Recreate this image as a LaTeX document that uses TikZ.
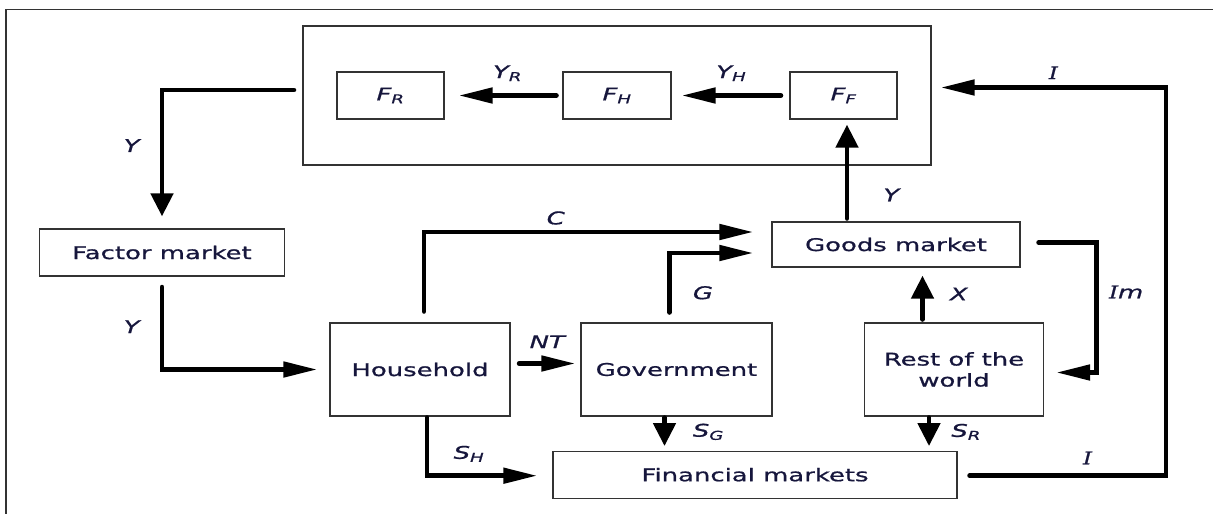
\documentclass[tikz,border=0pt]{standalone}
\usepackage{fontspec}
\setmainfont{DejaVu Sans}[FakeStretch=1.48,FakeBold=0.9,ItalicFont={DejaVu Sans Oblique}]
\newfontfamily\serifI{DejaVu Serif}[FakeStretch=1.3,FakeBold=0.9]
\usepackage{xcolor}
\usetikzlibrary{
	positioning,   %relative placement of labels
	calc,          %offsets from anchors
	arrows.meta    %Triangle tips
}
\definecolor{txtblue}{RGB}{22,22,60}
\newcommand\dfont{\fontsize{17.5}{21}\selectfont}
\newcommand\capI{{\serifI\itshape I}}
\tikzset{
	box/.style={draw=black!80,line width=1.3pt,inner sep=0pt,
		text=txtblue,align=center,font=\dfont},
	flow/.style={line width=4.8pt,line cap=round},
	harr/.style={flow,-{Triangle[length=34pt,width=15pt]}},
	varr/.style={flow,-{Triangle[length=23pt,width=22pt]}},
	lbl/.style={inner sep=4pt,text=txtblue,font=\dfont\itshape}
}

\begin{document}
\begin{tikzpicture}[x=1pt,y=-1pt]
\useasboundingbox (0,0) rectangle (1213,514);
%outer frame, only top and left edges are visible
\draw[black!80,line width=1.3pt] (6,530) |- (1230,9.5);

%firm sector with its three kinds of firms
\node[box,minimum width=628pt,minimum height=139pt] (sector) at (617,95.5) {};
\node[box,minimum width=107pt,minimum height=47pt] (FR) at (390.5,95.5) {\itshape F\textsubscript{R}};
\node[box,minimum width=108pt,minimum height=47pt] (FH) at (617,95.5) {\itshape F\textsubscript{H}};
\node[box,minimum width=107pt,minimum height=47pt] (FF) at (843.5,95.5) {\itshape F\textsubscript{F}};

%markets and sectors
\node[box,minimum width=245.5pt,minimum height=47pt] (factor) at (162,252.5) {Factor market};
\node[box,minimum width=248pt,minimum height=45pt] (goods) at (896,244.5) {Goods market};
\node[box,minimum width=180pt,minimum height=93pt] (house) at (420,369.5) {Household};
\node[box,minimum width=191pt,minimum height=93pt] (gov) at (676.5,369.5) {Government};
\node[box,minimum width=179pt,minimum height=93pt] (rest) at (954,369.5) {Rest of the\\world};
\node[box,minimum width=404pt,minimum height=47pt] (fin) at (755,474.7) {Financial markets};

%flows inside the firm sector
\draw[harr] ($(FH.west)+(-6,0)$) -- node[lbl,midway,above=8pt] {Y\textsubscript{R}} ($(FR.east)+(14,0)$);
\draw[harr] ($(FF.west)+(-8.5,0)$) -- node[lbl,midway,above=8pt] {Y\textsubscript{H}} ($(FH.east)+(10,0)$);

%income through the factor market
\draw[varr] ($(sector.west)+(-8.5,-5.5)$) -| node[lbl,pos=0.72,left=16pt] {Y} ($(factor.north)+(0,-12)$);
\draw[harr] ($(factor.south)+(0,10.5)$) |- node[lbl,pos=0.24,left=16pt] {Y} ($(house.west)+(-12,0)$);

%spending on the goods market
\draw[harr] ($(house.north)+(4,-11)$) |- node[lbl,pos=0.7,above=1pt] {C} ($(goods.west)+(-18,-12.5)$);
\draw[harr] ($(gov.north)+(-7,-10)$) |- node[lbl,pos=0.165,right=17pt] {G} ($(goods.west)+(-18,8.5)$);
\draw[varr] ($(FF.south |- goods.north)+(3.5,-3)$) -- node[lbl,pos=0.25,right=30pt] {Y} ($(FF.south)+(3.5,5)$);

%trade with the rest of the world
\draw[varr] ($(rest.north)+(-31.5,-3)$) -- node[lbl,pos=0.58,right=21pt] {X} ($(rest.north |- goods.south)+(-31.5,8)$);
\draw[harr] ($(goods.east)+(18,-2)$) -- ++(58,0) |- node[lbl,pos=0.19,right=6pt] {\capI m} ($(rest.east)+(12,3)$);

%taxes and savings
\draw[harr] ($(house.east)+(8.5,-6)$) -- node[lbl,midway,above=9pt] {NT} ($(gov.west)+(-5,-6)$);
\draw[harr] ($(house.south)+(7,1)$) |- node[lbl,pos=0.69,above=7.5pt] {S\textsubscript{H}} ($(fin.west)+(-15,1)$);
\draw[varr] ($(gov.south)+(-12,1)$) -- node[lbl,midway,right=22pt] {S\textsubscript{G}} ($(gov.south |- fin.north)+(-12,-4.5)$);
\draw[varr] ($(rest.south)+(-25,1)$) -- node[lbl,midway,right=16pt] {S\textsubscript{R}} ($(rest.south |- fin.north)+(-25,-4.5)$);

%investment back to the firms
\coordinate (iturn) at (1166,87.5);
\draw[harr] ($(fin.east)+(12,1)$) -| node[lbl,pos=0.3,above=5pt] {\capI} (iturn) -- node[lbl,midway,above=2pt] {\capI} ($(sector.east)+(9,-8)$);

\end{tikzpicture}
\end{document}
